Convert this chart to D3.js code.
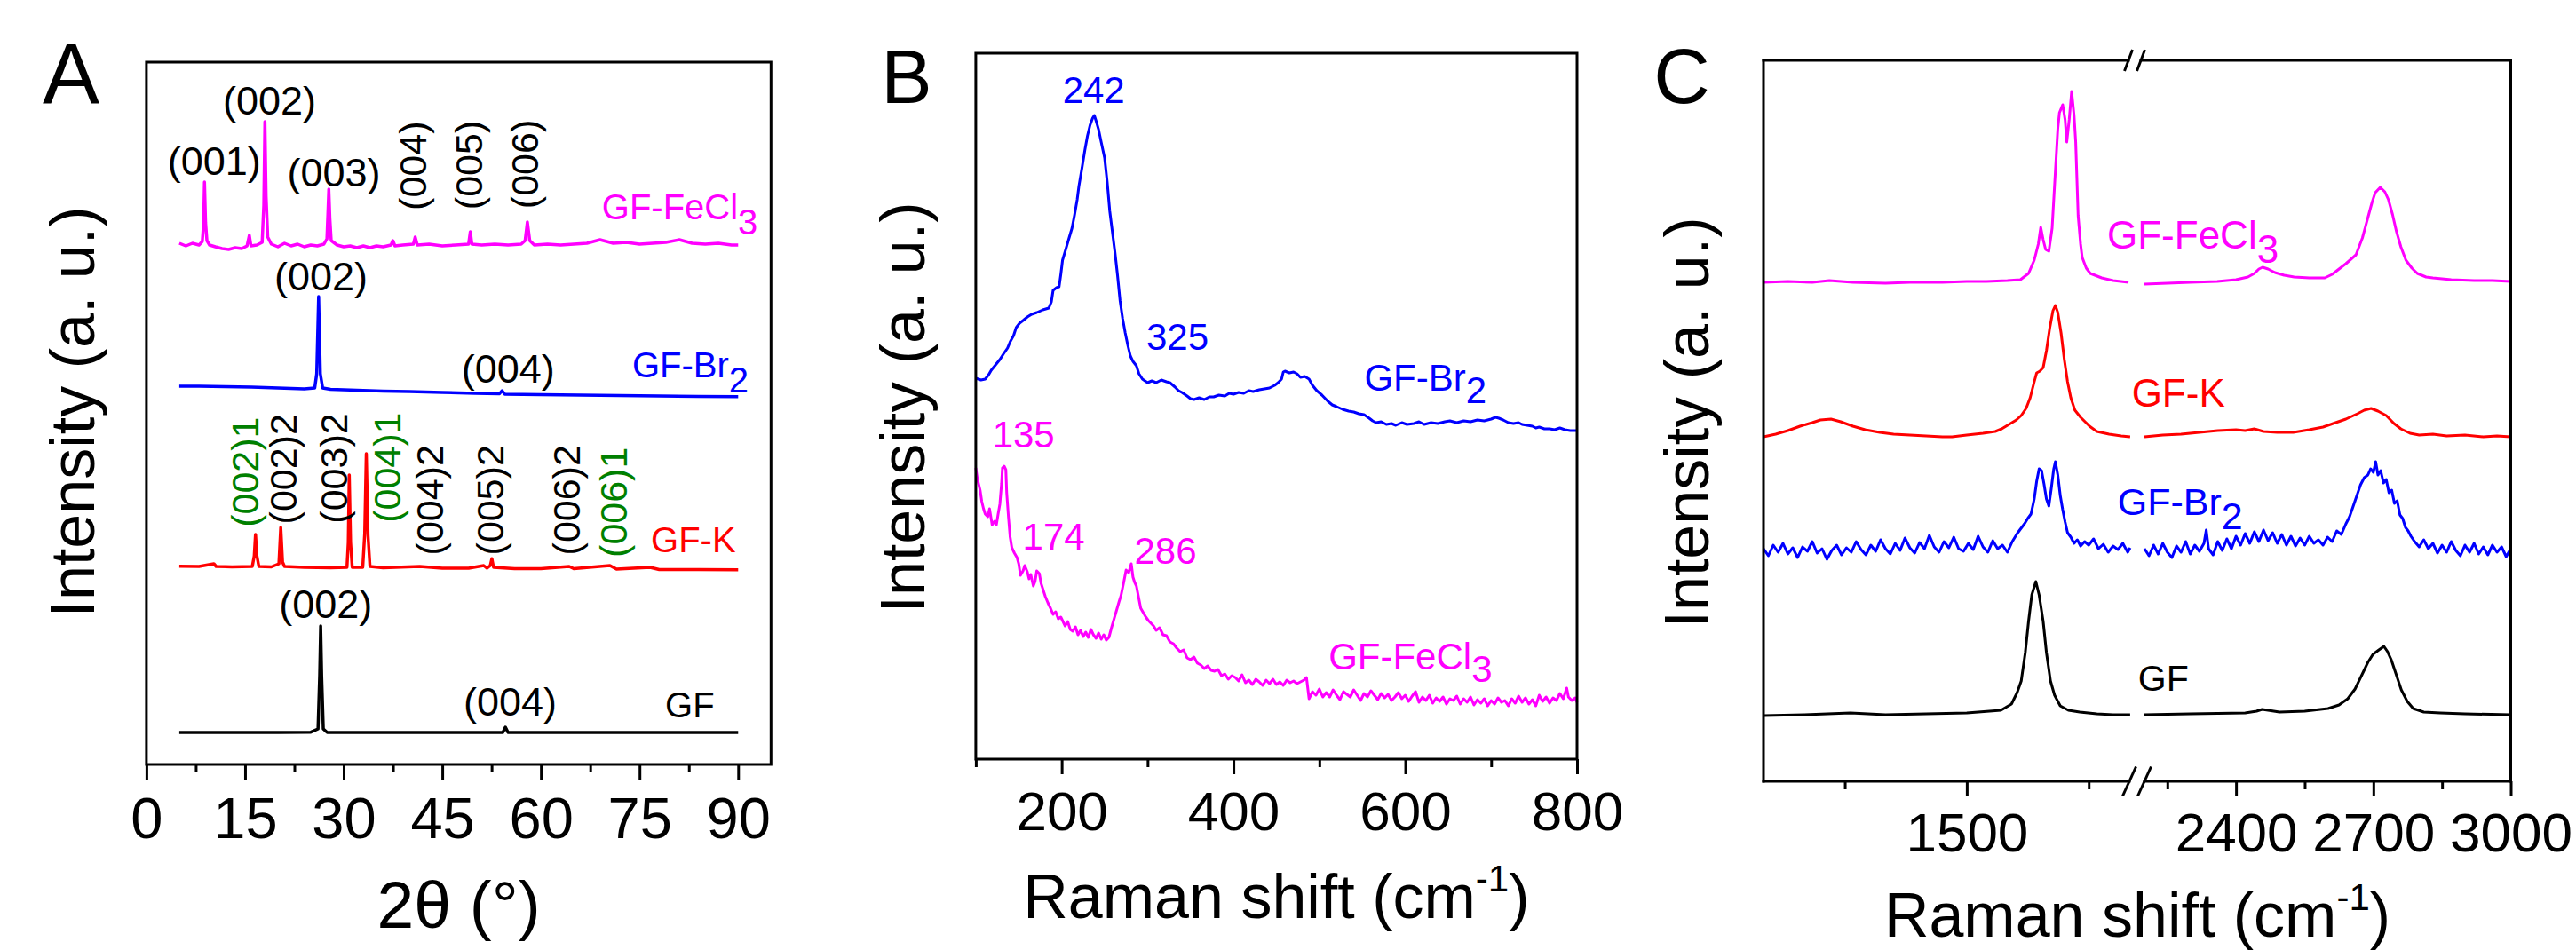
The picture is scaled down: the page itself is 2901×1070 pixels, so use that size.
<!DOCTYPE html>
<html>
<head>
<meta charset="utf-8">
<script src="https://cdn.jsdelivr.net/npm/d3@7"></script>
<style>
  body { margin: 0; background: #fff; }
  svg text { font-family: "Liberation Sans", Arial, sans-serif; }
</style>
</head>
<body>
<script>
'use strict';

// ---------- panel A : XRD, [2theta, intensity] ----------
const xrdFeCl3 = [[5,587],[6,584],[7,587],[8,585],[8.5,589],[8.7,610],[8.83,656],[9.0,610],[9.2,590],[9.6,585],[10.5,583],[11.5,581],[12.5,580],[13.5,582],[14.5,581],[15.3,584],[15.65,596],[15.9,584],[16.8,585],[17.6,588],[17.85,630],[18.02,724],[18.2,640],[18.45,594],[19,586],[20,583],[21,587],[22,584],[23,586],[24,583],[25,585],[26,584],[27,586],[27.45,592],[27.6,620],[27.74,648],[27.9,615],[28.1,590],[29,585],[30,583],[31,584],[32,582],[33,584],[34,582],[35,584],[36,583],[37.2,585],[37.48,590],[37.8,584],[39,585],[40.6,586],[40.88,594],[41.2,585],[43,586],[45,584],[47,585],[49,586],[49.26,600],[49.5,586],[51,585],[53,586],[55,585],[57,586],[57.6,590],[57.94,611],[58.3,590],[59,585],[61,586],[63,585],[65,586],[67,587],[68.98,591],[71,587],[73,588],[75,586],[77,587],[79,588],[81.05,591],[83,587],[85,586],[87,587],[89,585],[90,585]];
const xrdBr2 = [[5,426],[8,426],[12,425.5],[16,425],[20,424],[24,423],[25.6,424],[25.9,440],[26.19,527],[26.45,440],[26.8,424],[28,422.5],[32,421.5],[36,420.5],[40,420],[45,419],[50,418],[53.7,417.5],[54.09,421],[54.5,417],[60,416.5],[66,416],[72,415.5],[78,415],[84,414.5],[90,414.3]];
const xrdK = [[5,223.3],[8,223],[10.26,226],[10.6,223],[13,222.5],[16.1,223],[16.4,235],[16.59,259],[16.8,235],[17.1,223],[19,222.5],[20.15,226],[20.43,267],[20.7,228],[21,223],[24,222],[28,221.5],[30.5,222],[30.7,250],[30.85,326],[31.05,250],[31.3,222],[32.9,222],[33.2,260],[33.44,350],[33.7,258],[34,223],[36,221.5],[41.57,223],[45,221],[49,221],[51.3,224],[51.8,221],[52.3,224],[52.54,231.7],[52.8,222],[56,220.5],[60,220.5],[64.3,223],[65,220.5],[70.5,224],[71.5,220],[76.6,222],[78,219.5],[84,219.5],[90,219.3]];
const xrdGF = [[5,36],[10,36],[15,36],[20,36],[25,36.3],[26.1,40],[26.35,100],[26.5,156],[26.65,100],[26.9,40],[27.5,36],[35,36],[45,36],[54.2,36],[54.6,42],[55,36],[65,36],[75,36],[90,36]];

const xrdTicks = [0, 15, 30, 45, 60, 75, 90];
const xrdMinor = [7.5, 22.5, 37.5, 52.5, 67.5, 82.5];

const xrdPeakLabels = [
  {text: '(001)', x: 10.32, y: 663.6},
  {text: '(002)', x: 18.73, y: 732.4},
  {text: '(003)', x: 28.51, y: 651},
  {text: '(002)', x: 26.55, y: 534},
  {text: '(004)', x: 55.02, y: 430},
  {text: '(002)', x: 27.27, y: 165},
  {text: '(004)', x: 55.33, y: 55}
];
// rotated hkl labels (x = baseline position)
const xrdRotLabels = [
  {text: '(004)', x: 42.56, y: 674.3, green: false},
  {text: '(005)', x: 51.08, y: 675, green: false},
  {text: '(006)', x: 59.63, y: 676, green: false},
  {text: '(002)1', x: 17.06, y: 329.3, green: true},
  {text: '(002)2', x: 22.87, y: 332.7, green: false},
  {text: '(003)2', x: 30.5, y: 333.5, green: false},
  {text: '(004)1', x: 38.67, y: 334.3, green: true},
  {text: '(004)2', x: 45.08, y: 297.7, green: false},
  {text: '(005)2', x: 54.34, y: 297.7, green: false},
  {text: '(006)2', x: 65.86, y: 297.7, green: false},
  {text: '(006)1', x: 73.1, y: 295.2, green: true}
];
const xrdNames = [
  {name: 'GF-FeCl', sub: '3', x: 69.27, y: 614.3, color: '#ff00ff'},
  {name: 'GF-Br', sub: '2', x: 73.89, y: 436, color: '#0000ff'},
  {name: 'GF-K', sub: '', x: 76.73, y: 239.3, color: '#ff0000'},
  {name: 'GF', sub: '', x: 78.89, y: 52.7, color: '#000000'}
];

// ---------- panel B : low-frequency Raman ----------
const lowBr2 = [[100,429],[106,427],[111,428],[115,433],[118,438],[123,444],[128,450],[132,456],[137,463],[140,470],[144,477],[147,486],[151,491],[155,494],[160,498],[165,501],[171,503],[178,506],[185,508],[188,515],[190,528],[194,531],[197,532],[199,546],[201,562],[205,575],[208,585],[212,598],[215,613],[218,630],[220,645],[224,668],[227,686],[230,702],[233,714],[236,722],[238,725],[240,719],[243,709],[246,695],[250,677],[253,650],[256,617],[259,594],[262,571],[265,545],[268,516],[271,496],[274,480],[277,466],[280,454],[283,448],[287,443],[290,434],[294,428],[300,424],[305,426],[310,424],[316,427],[322,425],[326,424],[332,419],[336,415],[340,413],[346,409],[350,406],[354,405],[360,407],[366,405],[372,408],[377,408],[383,410],[390,409],[395,412],[400,411],[406,413],[412,412],[418,415],[423,414],[430,416],[436,417],[442,418],[448,421],[452,424],[456,428],[458,436],[460,437],[465,435],[470,436],[474,434],[478,430],[483,431],[488,428],[492,421],[497,415],[503,410],[510,403],[515,399],[520,397],[527,394],[534,392],[540,391],[546,389],[552,388],[558,384],[562,381],[566,379],[572,380],[578,377],[584,378],[589,376],[596,379],[602,377],[610,378],[616,380],[622,377],[630,379],[638,378],[646,380],[652,381],[660,379],[668,381],[676,380],[684,382],[692,381],[700,383],[705,385],[709,384],[714,382],[720,379],[726,378],[732,379],[736,377],[742,376],[748,375],[752,373],[756,374],[762,372],[768,372],[774,371],[780,373],[786,371],[792,370],[799,370]];
const lowFeCl3 = [[100,328],[102,315],[105,303],[107,290],[109,282],[111,276],[114,273],[116,282],[118,270],[119,264],[122,268],[124,264],[126,276],[128,287],[130,310],[131,328],[133,330],[135,326],[136,300],[138,273],[140,250],[142,238],[145,232],[148,227],[150,220],[152,207],[155,212],[157,218],[160,211],[162,203],[164,208],[167,195],[169,200],[171,212],[174,209],[176,198],[178,192],[181,183],[184,176],[187,170],[190,163],[193,166],[196,158],[199,160],[201,156],[204,150],[207,155],[210,146],[213,144],[216,149],[219,140],[222,145],[225,138],[228,143],[231,137],[234,146],[237,140],[240,136],[243,142],[246,135],[249,140],[252,134],[255,137],[258,148],[261,158],[264,168],[267,178],[269,184],[272,198],[275,213],[278,210],[281,220],[283,205],[285,199],[287,195],[290,180],[292,170],[295,165],[298,160],[301,156],[304,153],[307,150],[310,145],[314,148],[318,140],[322,139],[326,132],[330,130],[334,125],[338,121],[342,123],[346,114],[350,112],[354,115],[358,108],[362,106],[366,102],[370,105],[374,100],[378,99],[382,101],[386,94],[390,96],[394,90],[398,94],[402,92],[406,88],[410,95],[414,86],[418,89],[422,84],[426,90],[430,87],[434,83],[438,89],[442,85],[446,90],[450,84],[454,87],[458,83],[462,89],[466,86],[470,88],[474,85],[478,87],[482,89],[485,92],[488,68],[492,76],[496,72],[500,79],[504,70],[508,75],[512,70],[516,78],[520,72],[524,67],[528,76],[532,73],[536,70],[540,78],[544,72],[548,66],[552,74],[556,70],[560,77],[564,72],[568,67],[572,74],[576,69],[580,73],[584,66],[588,70],[592,75],[596,68],[600,72],[604,65],[608,71],[612,76],[616,64],[620,70],[624,66],[628,72],[632,63],[636,69],[640,65],[644,70],[648,62],[652,68],[656,66],[660,71],[664,62],[668,68],[672,64],[676,70],[680,61],[684,67],[688,63],[692,68],[696,60],[700,66],[704,62],[708,69],[712,64],[716,66],[720,60],[724,68],[728,63],[732,71],[736,64],[740,69],[744,62],[748,67],[752,60],[756,72],[760,65],[764,70],[768,63],[772,69],[776,66],[780,74],[784,68],[788,80],[790,70],[794,66],[798,69],[800,64]];

const lowTicks = [200, 400, 600, 800];
const lowMinor = [100, 300, 500, 700];
const lowPeakLabels = [
  {text: '242', x: 237.3, y: 739, anchor: 'middle', color: '#0000ff'},
  {text: '325', x: 298.6, y: 461, anchor: 'start', color: '#0000ff'},
  {text: '135', x: 119.4, y: 351, anchor: 'start', color: '#ff00ff'},
  {text: '174', x: 154.5, y: 236, anchor: 'start', color: '#ff00ff'},
  {text: '286', x: 284.6, y: 220, anchor: 'start', color: '#ff00ff'}
];
const lowNames = [
  {name: 'GF-Br', sub: '2', x: 552.3, y: 415.2, color: '#0000ff'},
  {name: 'GF-FeCl', sub: '3', x: 510.7, y: 100.6, color: '#ff00ff'}
];

// ---------- panel C : G / 2D Raman, split into two segments ----------
const hiFeCl3Left = [[1250,562],[1280,563],[1310,562],[1331,564],[1360,562],[1400,561],[1430,562],[1470,562],[1500,563],[1524,563],[1550,564],[1566,565],[1576,572],[1583,587],[1588,605],[1591,624],[1594,610],[1597,599],[1601,597],[1605,623],[1609,687],[1612,735],[1614,753],[1618,762],[1621,745],[1623,720],[1626,745],[1629,777],[1632,750],[1634,720],[1637,637],[1640,605],[1642,590],[1647,578],[1652,572],[1666,567],[1680,564],[1699,562]];
const hiFeCl3Right = [[2200,560],[2250,561],[2300,562],[2359,563],[2400,565],[2426,568],[2440,572],[2450,577],[2458,579],[2470,577],[2485,573],[2505,570],[2527,568],[2560,567],[2594,567],[2610,571],[2620,575],[2640,583],[2662,593],[2676,612],[2687,633],[2697,652],[2704,663],[2715,669],[2725,664],[2733,655],[2742,638],[2750,620],[2760,602],[2771,587],[2784,578],[2796,572],[2815,568],[2830,567],[2870,565],[2920,564],[2960,564],[3000,563]];
const hiKLeft = [[1250,388],[1265,391],[1280,395],[1295,400],[1310,404],[1320,407],[1333,408],[1345,405],[1360,400],[1375,396],[1393,393],[1410,391],[1430,390],[1450,389],[1470,388],[1482,388],[1500,390],[1520,392],[1535,394],[1543,397],[1552,402],[1561,407],[1567,412],[1573,420],[1578,432],[1583,450],[1586,460],[1590,462],[1594,466],[1598,485],[1602,510],[1606,530],[1609,536],[1612,528],[1616,505],[1620,475],[1624,450],[1628,432],[1633,418],[1640,410],[1651,400],[1660,394],[1675,391],[1690,389],[1701,388]];
const hiKRight = [[2200,388],[2240,390],[2280,391],[2320,393],[2360,395],[2400,396],[2420,395],[2440,397],[2460,394],[2490,393],[2525,393],[2560,396],[2590,399],[2612,403],[2640,408],[2665,414],[2680,418],[2695,420],[2710,417],[2728,412],[2745,403],[2760,397],[2780,392],[2800,390],[2830,391],[2860,389],[2900,390],[2940,388],[2970,389],[3000,388]];
const hiBr2Left = [[1250,262],[1256,254],[1262,266],[1268,258],[1274,268],[1280,256],[1286,263],[1292,252],[1298,264],[1304,259],[1310,270],[1316,257],[1322,262],[1328,250],[1334,260],[1340,266],[1346,255],[1352,263],[1358,258],[1364,270],[1370,261],[1376,255],[1382,266],[1388,259],[1394,272],[1400,262],[1406,256],[1412,268],[1418,260],[1424,274],[1430,263],[1436,257],[1442,269],[1448,262],[1454,277],[1460,264],[1466,258],[1472,270],[1478,263],[1484,275],[1490,262],[1496,259],[1502,268],[1508,261],[1514,276],[1520,264],[1526,258],[1532,271],[1538,262],[1544,266],[1550,258],[1556,270],[1562,279],[1566,284],[1571,290],[1575,296],[1579,301],[1583,318],[1586,338],[1589,352],[1592,350],[1595,335],[1598,318],[1601,310],[1604,330],[1607,352],[1609,360],[1612,345],[1615,322],[1618,306],[1621,292],[1624,280],[1628,275],[1632,268],[1636,272],[1640,265],[1645,270],[1650,266],[1656,273],[1662,262],[1668,267],[1674,258],[1680,265],[1686,261],[1692,268],[1698,258],[1701,263]];
const hiBr2Right = [[2200,262],[2210,254],[2220,266],[2230,256],[2240,268],[2250,258],[2260,252],[2270,265],[2280,258],[2290,270],[2300,256],[2310,266],[2320,259],[2330,268],[2335,283],[2340,262],[2350,255],[2360,270],[2370,260],[2380,273],[2390,262],[2400,276],[2410,266],[2420,279],[2430,268],[2440,281],[2450,270],[2460,283],[2470,271],[2480,280],[2490,268],[2500,278],[2510,266],[2520,276],[2530,265],[2540,274],[2550,266],[2560,276],[2570,268],[2580,272],[2590,266],[2600,275],[2610,270],[2620,282],[2630,278],[2640,290],[2648,298],[2656,310],[2664,322],[2672,334],[2680,342],[2688,345],[2694,352],[2700,348],[2705,360],[2710,345],[2716,350],[2722,336],[2728,340],[2734,325],[2740,328],[2746,313],[2752,316],[2758,300],[2764,296],[2770,286],[2776,282],[2782,276],[2790,270],[2800,264],[2810,272],[2820,262],[2830,268],[2840,257],[2850,266],[2860,258],[2870,270],[2880,260],[2890,254],[2900,266],[2910,258],[2920,268],[2930,256],[2940,264],[2950,255],[2960,266],[2970,258],[2980,264],[2990,253],[3000,262]];
const hiGFLeft = [[1250,74],[1300,75],[1357,77],[1400,75],[1450,76],[1500,77],[1542,80],[1555,87],[1562,100],[1567,113],[1572,145],[1576,180],[1580,210],[1585,225],[1589,210],[1594,180],[1598,145],[1603,113],[1608,97],[1615,85],[1625,80],[1639,78],[1660,76],[1680,75],[1701,75]];
const hiGFRight = [[2200,75],[2300,76],[2420,77],[2445,79],[2457,81],[2470,80],[2495,78],[2550,79],[2601,82],[2625,86],[2644,93],[2660,104],[2675,120],[2688,134],[2699,143],[2712,148],[2723,152],[2731,146],[2739,137],[2750,120],[2761,103],[2774,90],[2787,82],[2810,78],[2846,77],[2900,76],[3000,75]];

const hiTicksLeft = [1500];
const hiMinorLeft = [1350, 1650];
const hiTicksRight = [2400, 2700, 3000];
const hiMinorRight = [2250, 2550, 2850];
// label x given on the left-segment scale
const hiNames = [
  {name: 'GF-FeCl', sub: '3', x: 1672.7, y: 600, color: '#ff00ff', size: 44},
  {name: 'GF-K', sub: '', x: 1702.9, y: 421.7, color: '#ff0000', size: 44},
  {name: 'GF-Br', sub: '2', x: 1685.6, y: 300, color: '#0000ff', size: 43},
  {name: 'GF', sub: '', x: 1710.7, y: 101.7, color: '#000000', size: 41}
];

const svgContainer = d3.select('body').append('svg')
  .attr('width', 2901)
  .attr('height', 1070);

// draw a bottom axis with labelled major ticks and short minor ticks
function bottomAxis(scale, y, major, minor, fontSize, pad) {
  let g = svgContainer.append('g').attr('transform', 'translate(0,' + y + ')');
  g.call(d3.axisBottom(scale).tickValues(major).tickFormat(d3.format('d'))
    .tickSize(17).tickPadding(pad).tickSizeOuter(0));
  g.select('.domain').remove();
  g.selectAll('line').attr('stroke', '#000').attr('stroke-width', 3);
  g.selectAll('text').attr('fill', '#000').style('font-size', fontSize + 'px')
    .style('font-family', '"Liberation Sans", Arial, sans-serif');
  let m = svgContainer.append('g').attr('transform', 'translate(0,' + y + ')');
  m.call(d3.axisBottom(scale).tickValues(minor).tickSize(9).tickFormat('').tickSizeOuter(0));
  m.select('.domain').remove();
  m.selectAll('line').attr('stroke', '#000').attr('stroke-width', 3);
}

function drawCurve(data, xs, ys, color, width) {
  let line = d3.line().x((d) => xs(d[0])).y((d) => ys(d[1]));
  svgContainer.append('path')
    .datum(data)
    .attr('d', line)
    .attr('fill', 'none')
    .attr('stroke', color)
    .attr('stroke-width', width)
    .attr('stroke-linejoin', 'round');
}

// sample name with a same-size subscript
function sampleName(d, xs, ys, size, subDy) {
  let t = svgContainer.append('text')
    .attr('x', xs(d.x))
    .attr('y', ys(d.y))
    .attr('fill', d.color)
    .style('font-size', size + 'px')
    .text(d.name);
  if (d.sub) {
    t.append('tspan').attr('dy', subDy).text(d.sub);
  }
}

function plainText(x, y, str, size, anchor) {
  return svgContainer.append('text')
    .attr('x', x)
    .attr('y', y)
    .attr('text-anchor', anchor || 'start')
    .style('font-size', size + 'px')
    .text(str);
}

function yLabel(x, y) {
  svgContainer.append('text')
    .attr('transform', 'translate(' + x + ',' + y + ')rotate(-90)')
    .attr('text-anchor', 'middle')
    .style('font-size', '70px')
    .text('Intensity (a. u.)');
}

function ramanLabel(x, y) {
  let t = plainText(x, y, 'Raman shift (cm', 70, 'middle');
  t.append('tspan').attr('dy', -30).style('font-size', '42px').text('-1');
  t.append('tspan').attr('dy', 30).text(')');
}

// ---------------- panel A ----------------
function makePanelA() {
  let xA = d3.scaleLinear().domain([0, 95]).range([164.9, 868.3]);
  let yA = d3.scaleLinear().domain([0, 791]).range([861, 70]);

  bottomAxis(xA, 861, xrdTicks, xrdMinor, 65, 20);

  drawCurve(xrdGF, xA, yA, '#000000', 3.5);
  drawCurve(xrdK, xA, yA, '#ff0000', 3.5);
  drawCurve(xrdBr2, xA, yA, '#0000ff', 3.5);
  drawCurve(xrdFeCl3, xA, yA, '#ff00ff', 3.5);

  xrdPeakLabels.forEach((d) => plainText(xA(d.x), yA(d.y), d.text, 45, 'middle'));
  xrdRotLabels.forEach((d) => {
    svgContainer.append('text')
      .attr('transform', 'translate(' + xA(d.x) + ',' + yA(d.y) + ')rotate(-90)')
      .attr('text-anchor', 'middle')
      .attr('fill', d.green ? '#008000' : '#000000')
      .style('font-size', '43px')
      .text(d.text);
  });
  xrdNames.forEach((d) => sampleName(d, xA, yA, 40, 17));

  svgContainer.append('rect')
    .attr('x', xA(0)).attr('y', 70)
    .attr('width', xA(95) - xA(0)).attr('height', 791)
    .attr('fill', 'none').attr('stroke', '#000').attr('stroke-width', 3);

  plainText(80, 116, 'A', 96, 'middle');
  yLabel(106, 464);
  plainText(516.6, 1045, '2\u03b8 (\u00b0)', 75, 'middle');
}

// ---------------- panel B ----------------
function makePanelB() {
  let xB = d3.scaleLinear().domain([100, 800]).range([1098.9, 1776]);
  let yB = d3.scaleLinear().domain([0, 795]).range([855, 60]);

  bottomAxis(xB, 855, lowTicks, lowMinor, 62, 19);

  drawCurve(lowFeCl3, xB, yB, '#ff00ff', 3);
  drawCurve(lowBr2, xB, yB, '#0000ff', 3);

  lowPeakLabels.forEach((d) => {
    plainText(xB(d.x), yB(d.y), d.text, 42, d.anchor).attr('fill', d.color);
  });
  lowNames.forEach((d) => sampleName(d, xB, yB, 42, 14));

  svgContainer.append('rect')
    .attr('x', xB(100)).attr('y', 60)
    .attr('width', xB(800) - xB(100)).attr('height', 795)
    .attr('fill', 'none').attr('stroke', '#000').attr('stroke-width', 3);

  plainText(1021, 116, 'B', 86, 'middle');
  yLabel(1041, 459);
  ramanLabel(1437.4, 1034);
}

// ---------------- panel C ----------------
function makePanelC() {
  let xL = d3.scaleLinear().domain([1250, 1700]).range([1986, 2398]);
  let xR = d3.scaleLinear().domain([2200, 3000]).range([2415, 2827.5]);
  let yC = d3.scaleLinear().domain([0, 812]).range([880, 68]);

  bottomAxis(xL, 880, hiTicksLeft, hiMinorLeft, 62, 18);
  bottomAxis(xR, 880, hiTicksRight, hiMinorRight, 62, 18);

  drawCurve(hiGFLeft, xL, yC, '#000000', 3);
  drawCurve(hiGFRight, xR, yC, '#000000', 3);
  drawCurve(hiBr2Left, xL, yC, '#0000ff', 3);
  drawCurve(hiBr2Right, xR, yC, '#0000ff', 3);
  drawCurve(hiKLeft, xL, yC, '#ff0000', 3);
  drawCurve(hiKRight, xR, yC, '#ff0000', 3);
  drawCurve(hiFeCl3Left, xL, yC, '#ff00ff', 3);
  drawCurve(hiFeCl3Right, xR, yC, '#ff00ff', 3);

  hiNames.forEach((d) => sampleName(d, xL, yC, d.size, 16));

  // frame with a gap where the axis is broken
  let left = xL(1250), right = xR(3000), top = yC(812), bottom = yC(0);
  let frame = [
    [left, top, left, bottom], [right, top, right, bottom],
    [left, top, 2397, top], [2411, top, right, top],
    [left, bottom, 2398, bottom], [2415, bottom, right, bottom]
  ];
  frame.forEach((s) => {
    svgContainer.append('line')
      .attr('x1', s[0]).attr('y1', s[1]).attr('x2', s[2]).attr('y2', s[3])
      .attr('stroke', '#000').attr('stroke-width', 3).attr('stroke-linecap', 'square');
  });
  // break marks "//" : [centre x, centre y, half dx, half dy]
  let breaks = [[2397, top, 4.5, 12], [2411, top, 4.5, 12],
                [2398, bottom, 7.5, 16.5], [2415, bottom, 7.5, 16.5]];
  breaks.forEach((b) => {
    svgContainer.append('line')
      .attr('x1', b[0] - b[2]).attr('y1', b[1] + b[3])
      .attr('x2', b[0] + b[2]).attr('y2', b[1] - b[3])
      .attr('stroke', '#000').attr('stroke-width', 3);
  });

  plainText(1894, 116, 'C', 88, 'middle');
  yLabel(1924, 476);
  ramanLabel(2407, 1055);
}

makePanelA();
makePanelB();
makePanelC();
</script>
</body>
</html>
